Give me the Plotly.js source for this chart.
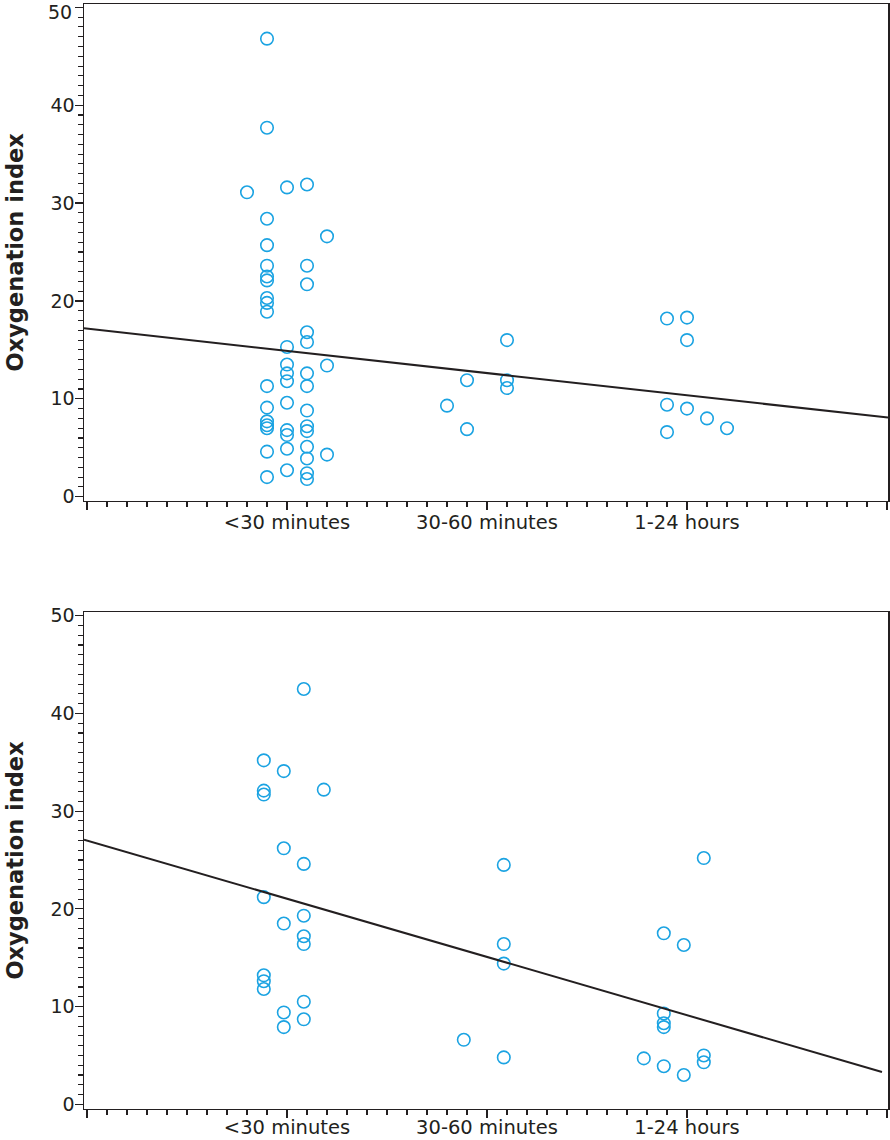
<!DOCTYPE html>
<html>
<head>
<meta charset="utf-8">
<script src="https://cdn.plot.ly/plotly-3.0.1.min.js"></script>
<style>
  html, body { margin: 0; padding: 0; background: #ffffff; }
  #chart { width: 890px; height: 1140px; }
</style>
</head>
<body>
<div id="chart"></div>
<script>
// ---- Data ----
const categories = ['<30 minutes', '30-60 minutes', '1-24 hours'];
const yTitle = 'Oxygenation index';
const yTickVals = [0, 10, 20, 30, 40, 50];

// Top panel: category index (1..3), horizontal jitter offset, oxygenation index
const topGroup = [
  1,
  1,1,1,1,1,1,1,1,1,1,1,1,1,1,1,1,1,
  1,1,1,1,1,1,1,1,1,1,
  1,1,1,1,1,1,1,1,1,1,1,1,1,1,
  1,1,1,
  2,
  2,2,
  2,2,2,
  3,3,3,
  3,3,3,
  3,
  3
];
const topJitter = [
  -0.2,
  -0.1,-0.1,-0.1,-0.1,-0.1,-0.1,-0.1,-0.1,-0.1,-0.1,-0.1,-0.1,-0.1,-0.1,-0.1,-0.1,-0.1,
  0,0,0,0,0,0,0,0,0,0,
  0.1,0.1,0.1,0.1,0.1,0.1,0.1,0.1,0.1,0.1,0.1,0.1,0.1,0.1,
  0.2,0.2,0.2,
  -0.2,
  -0.1,-0.1,
  0.1,0.1,0.1,
  -0.1,-0.1,-0.1,
  0,0,0,
  0.1,
  0.2
];
const topOI = [
  31.1,
  46.8,37.7,28.4,25.7,23.6,22.5,22.1,20.3,19.8,18.9,11.3,9.1,7.7,7.3,7.0,4.6,2.0,
  31.6,15.3,13.5,12.6,11.8,9.6,6.8,6.3,4.9,2.7,
  31.9,23.6,21.7,16.8,15.8,12.6,11.3,8.8,7.2,6.7,5.1,3.9,2.4,1.8,
  26.6,13.4,4.3,
  9.3,
  11.9,6.9,
  16.0,11.9,11.1,
  18.2,9.4,6.6,
  18.3,16.0,9.0,
  8.0,
  7.0
];

// Bottom panel
const bottomGroup = [
  1,1,1,1,1,1,1,
  1,1,1,1,1,
  1,1,1,1,1,1,1,
  1,
  2,
  2,2,2,2,
  3,
  3,3,3,3,3,
  3,3,
  3,3,3
];
const bottomJitter = [
  -0.1,-0.1,-0.1,-0.1,-0.1,-0.1,-0.1,
  0,0,0,0,0,
  0.1,0.1,0.1,0.1,0.1,0.1,0.1,
  0.2,
  -0.1,
  0.1,0.1,0.1,0.1,
  -0.2,
  -0.1,-0.1,-0.1,-0.1,-0.1,
  0,0,
  0.1,0.1,0.1
];
const bottomOI = [
  35.2,32.1,31.7,21.2,13.2,12.6,11.8,
  34.1,26.2,18.5,9.4,7.9,
  42.5,24.6,19.3,17.2,16.4,10.5,8.7,
  32.2,
  6.6,
  24.5,16.4,14.4,4.8,
  4.7,
  17.5,9.3,8.3,7.9,3.9,
  16.3,3.0,
  25.2,5.0,4.3
];

// Fitted regression lines: [intercept, slope] on the category scale
const topFit = [17.17, -2.27];
const bottomFit = [27.0, -5.96];

// ---- Styling ----
const ink = '#231f20';
const dot = '#1ba3e2';
const fontFam = 'DejaVu Sans, Liberation Sans, Arial, sans-serif';
const bottomShift = -0.016;

function xs(groups, jit, shift) {
  return groups.map((g, i) => g + jit[i] + shift);
}
function fitLine(fit, x0, x1) {
  return { x: [x0, x1], y: [fit[0] + fit[1] * x0, fit[0] + fit[1] * x1] };
}

const markerStyle = { symbol: 'circle-open', size: 12.5, color: dot, line: { width: 1.6, color: dot } };

const lt = fitLine(topFit, -0.015, 4.005);
const lb = fitLine(bottomFit, -0.015, 3.975);

const traces = [
  { type: 'scatter', mode: 'markers', x: xs(topGroup, topJitter, 0), y: topOI,
    xaxis: 'x', yaxis: 'y', marker: markerStyle, hoverinfo: 'y', showlegend: false },
  { type: 'scatter', mode: 'lines', x: lt.x, y: lt.y, xaxis: 'x', yaxis: 'y',
    line: { color: ink, width: 2 }, hoverinfo: 'skip', showlegend: false },
  { type: 'scatter', mode: 'markers', x: xs(bottomGroup, bottomJitter, bottomShift), y: bottomOI,
    xaxis: 'x2', yaxis: 'y2', marker: markerStyle, hoverinfo: 'y', showlegend: false },
  { type: 'scatter', mode: 'lines', x: lb.x, y: lb.y, xaxis: 'x2', yaxis: 'y2',
    line: { color: ink, width: 2 }, hoverinfo: 'skip', showlegend: false }
];

function xAxis(anchor, standoff) {
  return {
    anchor: anchor, domain: [0, 1], range: [-0.015, 4.005],
    tickmode: 'array', tickvals: [0, 1, 2, 3, 4], ticktext: ['', categories[0], categories[1], categories[2], ''],
    ticks: 'outside', ticklen: 8, tickwidth: 1.2, tickcolor: ink,
    minor: { tickmode: 'linear', tick0: 0, dtick: 0.1, ticks: 'outside', ticklen: 5, tickwidth: 1.1, tickcolor: ink, showgrid: false },
    showline: true, linecolor: ink, linewidth: 1.5, mirror: true,
    showgrid: false, zeroline: false, fixedrange: true,
    ticklabelstandoff: standoff, ticklabeloverflow: 'allow',
    tickfont: { family: fontFam, size: 19.5, color: ink }
  };
}
function yAxis(anchor, domain, range, texts) {
  return {
    anchor: anchor, domain: domain, range: range,
    tickmode: 'array', tickvals: yTickVals, ticktext: texts,
    ticks: 'outside', ticklen: 8, tickwidth: 1.2, tickcolor: ink,
    minor: { tickmode: 'linear', tick0: 0, dtick: 1, ticks: 'outside', ticklen: 5, tickwidth: 1.1, tickcolor: ink, showgrid: false },
    showline: true, linecolor: ink, linewidth: 1.5, mirror: true,
    showgrid: false, zeroline: false, fixedrange: true,
    ticklabelstandoff: -4, ticklabeloverflow: 'allow',
    tickfont: { family: fontFam, size: 19, color: ink },
    title: { text: yTitle, font: { family: fontFam, size: 22.5, color: ink, weight: 'bold' }, standoff: 20 }
  };
}

const topTexts = yTickVals.map(v => v === 50 ? '' : String(v));
const bottomTexts = yTickVals.map(v => String(v));

const H = 1140;
const layout = {
  width: 890, height: H,
  margin: { l: 84, r: 2, t: 0, b: 0 },
  paper_bgcolor: '#ffffff', plot_bgcolor: '#ffffff',
  showlegend: false,
  xaxis: xAxis('y', -5),
  yaxis: yAxis('x', [1 - 500.7 / H, 1 - 4 / H], [-0.41, 50.34], topTexts),
  xaxis2: xAxis('y2', -8),
  yaxis2: yAxis('x2', [1 - 1108.7 / H, 1 - 612.3 / H], [-0.45, 50.35], bottomTexts),
  annotations: [
    { text: String(yTickVals[5]), xref: 'paper', x: 0, xanchor: 'right', xshift: -10,
      yref: 'paper', y: 1, yanchor: 'top', yshift: 1, showarrow: false,
      font: { family: fontFam, size: 19, color: ink } }
  ]
};

Plotly.newPlot('chart', traces, layout, { displayModeBar: false, staticPlot: true });
</script>
</body>
</html>
